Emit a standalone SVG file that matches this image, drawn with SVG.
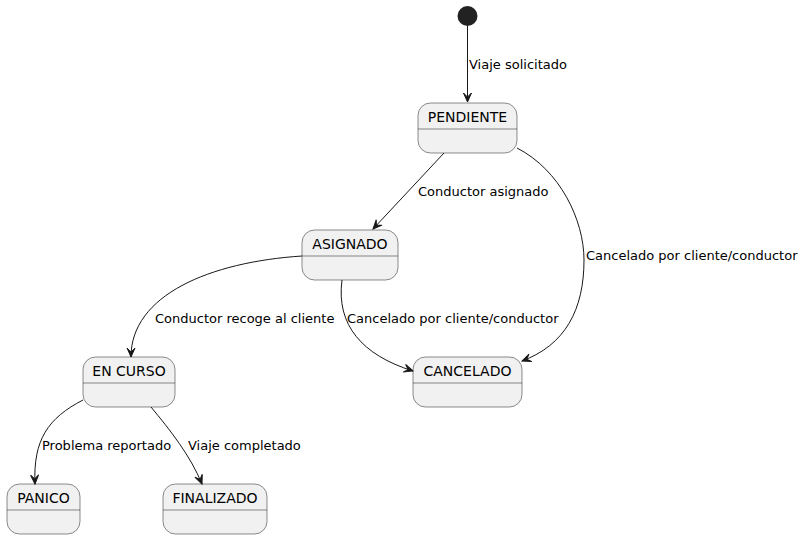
<svg xmlns="http://www.w3.org/2000/svg" width="804" height="539" viewBox="0 0 804 539">
<style>
.st rect{fill:#F1F1F1;stroke:#181818;stroke-width:0.5}
.st line{stroke:#181818;stroke-width:0.5}
.st text{font-family:"DejaVu Sans",sans-serif;font-size:14px;fill:#000;text-anchor:middle}
.lbl{font-family:"DejaVu Sans",sans-serif;font-size:13px;fill:#000}
#edges path{fill:none;stroke:#181818;stroke-width:1}
</style>
<defs>
<marker id="ah" markerWidth="12" markerHeight="10" refX="10" refY="5" orient="auto" markerUnits="userSpaceOnUse">
<path d="M10,5 L1,1 L5,5 L1,9 Z" fill="#181818" stroke="#181818" stroke-width="1"/>
</marker>
</defs>
<g id="start"><circle cx="467.5" cy="16" r="10" fill="#222222"/></g>
<g id="PENDIENTE" class="st"><rect x="418" y="103" width="99" height="50" rx="12.5"/><line x1="418" y1="129" x2="517" y2="129"/><text x="467.5" y="122">PENDIENTE</text></g>
<g id="ASIGNADO" class="st"><rect x="302" y="230" width="96" height="50" rx="12.5"/><line x1="302" y1="256" x2="398" y2="256"/><text x="350" y="249">ASIGNADO</text></g>
<g id="CANCELADO" class="st"><rect x="413" y="357" width="109" height="50" rx="12.5"/><line x1="413" y1="383" x2="522" y2="383"/><text x="467.5" y="376">CANCELADO</text></g>
<g id="ENCURSO" class="st"><rect x="83" y="357" width="92" height="50" rx="12.5"/><line x1="83" y1="383" x2="175" y2="383"/><text x="129" y="376">EN CURSO</text></g>
<g id="PANICO" class="st"><rect x="7" y="484" width="73" height="50" rx="12.5"/><line x1="7" y1="510" x2="80" y2="510"/><text x="43.5" y="503">PANICO</text></g>
<g id="FINALIZADO" class="st"><rect x="163" y="484" width="104" height="50" rx="12.5"/><line x1="163" y1="510" x2="267" y2="510"/><text x="215" y="503">FINALIZADO</text></g>
<g id="edges">
<path d="M467.5,26 L467.5,102" marker-end="url(#ah)"/>
<path d="M444,153 L373,229" marker-end="url(#ah)"/>
<path d="M517,148 C560,170 584,220 584,260 C584,310 565,345 522,361" marker-end="url(#ah)"/>
<path d="M302,256 C210,262 131,295 131,357" marker-end="url(#ah)"/>
<path d="M342,280 C336,325 362,355 413,371" marker-end="url(#ah)"/>
<path d="M83,400 C48,418 33,440 35,484" marker-end="url(#ah)"/>
<path d="M151,407 C170,430 190,455 202,484" marker-end="url(#ah)"/>
</g>
<g id="labels">
<text class="lbl" x="469" y="69">Viaje solicitado</text>
<text class="lbl" x="418" y="196">Conductor asignado</text>
<text class="lbl" x="586" y="260">Cancelado por cliente/conductor</text>
<text class="lbl" x="155" y="323">Conductor recoge al cliente</text>
<text class="lbl" x="347" y="323">Cancelado por cliente/conductor</text>
<text class="lbl" x="42" y="450">Problema reportado</text>
<text class="lbl" x="188" y="450">Viaje completado</text>
</g>
</svg>
